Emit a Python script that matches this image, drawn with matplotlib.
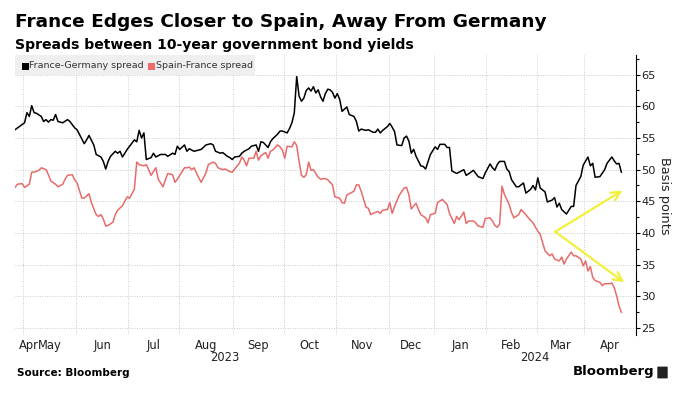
import matplotlib
matplotlib.use('Agg')
import matplotlib.pyplot as plt
from matplotlib.patches import Rectangle, FancyBboxPatch
from matplotlib.ticker import MultipleLocator
import matplotlib.transforms as mtransforms
import numpy as np
import pandas as pd

# trading-day calendar (x axis is in trading days, like the Bloomberg chart)
holidays = ['2023-05-01', '2023-12-25', '2023-12-26', '2024-01-01', '2024-03-29', '2024-04-01']
tdays = pd.bdate_range('2023-04-25', '2024-04-23')
tdays = tdays[~tdays.isin(pd.to_datetime(holidays))]

# France-Germany spread (trading day number, bp)
fg_day = [0, 4, 5, 6, 7, 8, 9, 11, 12, 13, 14, 15, 16, 17, 18, 20, 22, 23, 25, 26,
          29, 30, 31, 33, 34, 36, 37, 38, 39, 40, 42, 43, 44, 45, 47, 48, 50, 51, 52, 53,
          54, 55, 57, 58, 59, 61, 63, 64, 66, 67, 68, 69, 71, 72, 73, 75, 77, 78, 80, 82,
          83, 84, 86, 87, 89, 90, 91, 92, 94, 95, 96, 98, 99, 101, 102, 103, 104, 106, 107, 108,
          110, 111, 112, 114, 115, 116, 117, 118, 119, 120, 121, 122, 123, 124, 125, 126, 127, 128, 129, 130,
          131, 132, 133, 134, 135, 136, 137, 139, 140, 142, 143, 144, 145, 147, 148, 150, 151, 152, 153, 154,
          156, 157, 158, 159, 160, 162, 163, 164, 165, 166, 167, 168, 170, 171, 172, 174, 176, 177, 178, 180,
          181, 182, 183, 185, 186, 188, 189, 191, 192, 194, 196, 197, 199, 200, 201, 202, 203, 205, 206, 207,
          208, 210, 211, 213, 214, 216, 217, 218, 219, 220, 222, 223, 225, 226, 227, 228, 229, 231, 232, 233,
          234, 235, 237, 238, 240, 241, 242, 243, 245, 247, 248, 250, 251, 252, 253, 254]
fg_val = [56.3, 57.4, 59.0, 58.4, 60.1, 59.0, 58.9, 58.4, 57.6, 57.9, 57.5, 57.9, 57.8, 58.7, 57.6, 57.4, 57.9, 57.6, 56.6, 56.3,
          54.1, 54.7, 55.4, 53.9, 52.4, 52.0, 51.3, 50.1, 51.3, 52.1, 52.9, 52.6, 52.9, 52.0, 53.2, 53.7, 54.7, 54.4, 56.2, 55.0,
          55.8, 51.6, 51.9, 52.6, 52.0, 52.4, 52.4, 52.1, 52.6, 52.4, 53.7, 53.2, 53.9, 52.9, 53.3, 52.9, 53.1, 53.2, 53.9, 54.1,
          53.9, 52.9, 52.6, 52.7, 52.1, 51.9, 51.6, 52.0, 52.1, 52.6, 52.9, 53.3, 53.7, 53.9, 52.9, 54.4, 54.3, 53.5, 54.4, 54.9,
          55.6, 56.1, 56.1, 55.8, 56.5, 57.4, 59.0, 64.7, 61.6, 60.8, 61.3, 62.5, 62.9, 62.4, 63.1, 62.1, 62.6, 61.5, 60.8, 62.0,
          62.7, 62.6, 62.2, 61.3, 62.0, 61.1, 59.2, 59.9, 58.7, 58.4, 57.6, 56.1, 56.4, 56.2, 56.3, 55.9, 55.9, 56.4, 55.8, 56.2,
          56.8, 57.3, 56.7, 56.0, 53.9, 53.8, 55.0, 55.3, 54.5, 52.6, 53.2, 52.1, 50.6, 50.5, 50.1, 52.4, 53.6, 53.2, 54.0, 54.0,
          53.5, 53.5, 49.8, 49.4, 49.6, 50.0, 49.1, 49.6, 49.9, 48.9, 48.6, 49.5, 50.9, 50.3, 49.9, 50.8, 51.3, 51.3, 50.1, 49.7,
          48.4, 47.3, 47.3, 47.9, 46.3, 46.9, 47.5, 46.8, 48.7, 47.1, 46.5, 44.9, 45.2, 45.6, 44.1, 44.7, 43.7, 43.0, 43.6, 44.2,
          44.2, 47.5, 48.9, 50.7, 52.0, 50.6, 51.0, 48.8, 48.9, 50.0, 51.0, 52.0, 51.4, 50.9, 51.0, 49.6]

# Spain-France spread (trading day number, bp)
sf_day = [0, 1, 3, 4, 6, 7, 8, 10, 11, 13, 14, 15, 17, 18, 20, 21, 22, 24, 25, 26,
          28, 29, 31, 32, 34, 35, 36, 37, 38, 39, 41, 42, 43, 45, 46, 47, 48, 50, 51, 52,
          54, 55, 56, 57, 59, 60, 62, 63, 64, 66, 67, 68, 70, 71, 72, 73, 74, 75, 77, 78,
          80, 81, 83, 84, 85, 87, 88, 90, 91, 92, 94, 95, 96, 97, 98, 100, 101, 102, 103, 105,
          106, 107, 108, 110, 111, 112, 113, 114, 116, 117, 118, 119, 120, 121, 122, 123, 124, 125, 127, 128,
          130, 131, 133, 134, 136, 137, 138, 139, 140, 142, 143, 144, 145, 147, 148, 149, 150, 152, 153, 154,
          156, 157, 158, 159, 161, 163, 164, 165, 166, 168, 169, 170, 172, 173, 174, 176, 177, 179, 181, 182,
          184, 185, 186, 188, 189, 190, 192, 193, 194, 196, 197, 199, 200, 201, 202, 203, 204, 205, 207, 208,
          209, 211, 212, 214, 215, 217, 218, 219, 220, 221, 222, 224, 225, 226, 228, 229, 230, 231, 233, 234,
          235, 237, 238, 239, 240, 241, 242, 243, 245, 246, 247, 249, 250, 251, 252, 253, 254]
sf_val = [47.2, 47.7, 47.8, 47.2, 47.7, 49.6, 49.6, 49.9, 50.3, 50.0, 49.2, 48.2, 47.7, 47.3, 47.7, 48.5, 49.1, 49.2, 48.4, 47.9,
          45.5, 45.5, 46.2, 44.8, 42.9, 42.6, 42.9, 42.2, 41.1, 41.2, 41.7, 42.9, 43.6, 44.3, 45.0, 45.7, 45.5, 46.9, 51.2, 50.8,
          50.6, 50.8, 50.0, 49.1, 50.3, 48.5, 47.3, 48.4, 49.4, 49.2, 48.0, 48.5, 49.7, 50.3, 50.3, 50.4, 50.0, 50.3, 48.7, 48.0,
          49.5, 50.8, 51.2, 51.0, 50.3, 50.0, 50.1, 49.7, 49.6, 50.1, 51.0, 52.0, 51.5, 50.6, 51.8, 51.8, 52.9, 51.5, 52.2, 52.7,
          51.8, 52.9, 53.1, 53.9, 53.6, 53.1, 51.8, 53.7, 53.6, 54.4, 53.8, 51.3, 49.1, 48.8, 49.2, 51.2, 49.9, 50.0, 48.8, 48.5,
          48.6, 48.4, 47.6, 45.7, 45.5, 44.8, 44.7, 46.0, 46.2, 46.6, 47.6, 47.6, 46.6, 44.1, 43.9, 42.9, 43.1, 43.4, 43.1, 43.6,
          43.7, 44.8, 43.1, 44.2, 46.0, 47.1, 47.2, 46.0, 43.8, 44.7, 43.7, 42.9, 42.4, 41.6, 42.9, 43.1, 44.8, 45.3, 44.5, 43.1,
          41.5, 42.6, 42.1, 43.3, 41.5, 41.9, 41.9, 41.6, 41.1, 40.9, 42.3, 42.4, 41.9, 41.2, 40.9, 41.4, 47.4, 46.1, 44.5, 43.2,
          42.4, 42.9, 43.7, 42.9, 42.4, 41.6, 40.9, 40.3, 39.8, 38.5, 37.2, 36.4, 36.7, 35.9, 35.6, 36.2, 35.1, 35.9, 37.0, 36.4,
          36.4, 35.9, 34.8, 35.6, 34.0, 34.7, 33.0, 32.5, 32.2, 31.7, 32.0, 32.0, 32.1, 31.4, 30.1, 28.5, 27.5]

# yellow arrows (trading day, bp)
arrow_start = (226.3, 40.2)
arrow_up = (254.4, 46.7)
arrow_down = (255.2, 32.2)

W, H = 692, 397
fig = plt.figure(figsize=(W / 100, H / 100), dpi=100)
ax = fig.add_axes([15 / W, 1 - 335 / H, 620.7 / W, 280 / H])

ax.plot(fg_day, fg_val, color='black', lw=1.1, zorder=3)
ax.plot(sf_day, sf_val, color='#e86b6b', lw=1.1, zorder=3)

ax.set_xlim(0, 260)
ax.set_ylim(23.9, 68.1)

# month boundaries and labels
months = tdays.to_period('M')
starts = [i for i in range(1, len(tdays)) if months[i] != months[i - 1]]
bounds = [s - 0.5 for s in starts]
edges = [0] + bounds + [260]
centers = [(a + b) / 2 for a, b in zip(edges[:-1], edges[1:])]
labels = [months[0].strftime('%b')] + [months[s].strftime('%b') for s in starts]

ax.set_xticks(bounds)
ax.set_xticklabels([])
ax.set_xticks(centers, minor=True)
ax.set_xticklabels(labels, minor=True)
ax.tick_params(axis='x', which='both', length=0, pad=3, labelsize=8.3, labelcolor='#222222')
ax.get_xticklabels(minor=True)[0].set_x(0.2)
ax.get_xticklabels(minor=True)[0].set_ha('left')

# year labels
trans = mtransforms.blended_transform_factory(ax.transData, ax.transAxes)
jan = starts[[months[s].month for s in starts].index(1)] - 0.5
ax.text(jan / 2, -0.079, '2023', transform=trans, ha='center', va='center', fontsize=8.3, color='#222222')
ax.text((jan + 260) / 2, -0.079, '2024', transform=trans, ha='center', va='center', fontsize=8.3, color='#222222')

# y axis on the right
ax.yaxis.tick_right()
ax.set_yticks(np.arange(25, 70, 5))
ax.yaxis.set_minor_locator(MultipleLocator(2.5))
ax.tick_params(axis='y', which='major', direction='out', length=3, width=0.8, pad=1,
               labelsize=8.2, labelcolor='#222222')
ax.tick_params(axis='y', which='minor', direction='out', length=2, width=0.8)
for s in ['left', 'top', 'bottom']:
    ax.spines[s].set_visible(False)
ax.spines['right'].set_linewidth(0.8)

ax.grid(True, which='major', color='#cccccc', ls=(0, (1, 1.5)), lw=0.7)
ax.set_axisbelow(True)

# arrows
for tip in [arrow_up, arrow_down]:
    ax.annotate('', xy=tip, xytext=arrow_start,
                arrowprops=dict(arrowstyle='->', color='#f2f03c', lw=1.6, mutation_scale=16,
                                shrinkA=0, shrinkB=0), zorder=4)

fig.text(664 / W, 1 - 196 / H, 'Basis points', rotation=270, ha='center', va='center',
         fontsize=9.3, color='#222222')

# titles
fig.text(15 / W, 1 - 22 / H, 'France Edges Closer to Spain, Away From Germany',
         fontsize=13.3, fontweight='bold', va='center')
fig.text(15 / W, 1 - 45 / H, 'Spreads between 10-year government bond yields',
         fontsize=10.1, fontweight='bold', va='center')

# legend
fig.patches.append(Rectangle((15 / W, 1 - 75 / H), 240 / W, 20 / H, transform=fig.transFigure,
                             facecolor='#efefef', edgecolor='none', zorder=5))
fig.patches.append(Rectangle((21.5 / W, 1 - 69.5 / H), 7 / W, 7 / H, transform=fig.transFigure,
                             facecolor='black', edgecolor='none', zorder=6))
fig.text(29 / W, 1 - 66 / H, 'France-Germany spread', fontsize=6.8, color='#333333',
         va='center', zorder=7)
fig.patches.append(Rectangle((148 / W, 1 - 69.5 / H), 7 / W, 7 / H, transform=fig.transFigure,
                             facecolor='#f26b6b', edgecolor='none', zorder=6))
fig.text(156 / W, 1 - 66 / H, 'Spain-France spread', fontsize=6.8, color='#333333',
         va='center', zorder=7)

# footer
fig.text(17 / W, 1 - 373 / H, 'Source: Bloomberg', fontsize=7.5, fontweight='bold', va='center')
fig.text(654 / W, 1 - 372 / H, 'Bloomberg', fontsize=9.5, fontweight='bold', va='center', ha='right')
fig.patches.append(FancyBboxPatch((658 / W, 1 - 378 / H), 9 / W, 11 / H, transform=fig.transFigure,
                                  boxstyle='round,pad=0.001', facecolor='#222222', edgecolor='none'))

fig.savefig('out.png', dpi=100)
